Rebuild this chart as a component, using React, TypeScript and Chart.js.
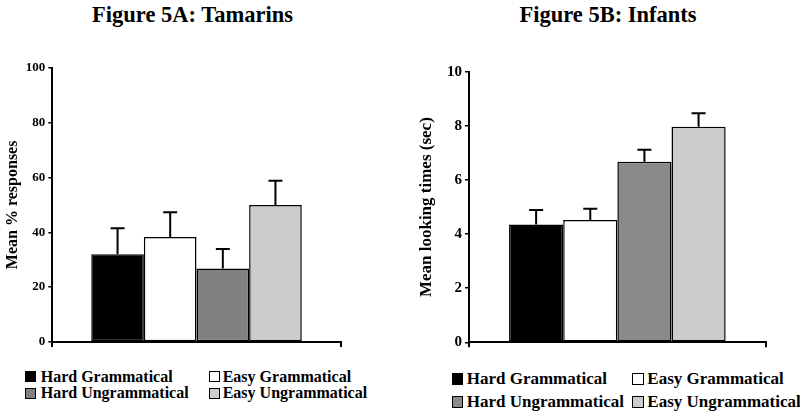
import React, { useEffect, useRef } from "react";
import { Chart, registerables } from "chart.js";

Chart.register(...registerables);

const categories = ["Hard Grammatical", "Easy Grammatical", "Hard Ungrammatical", "Easy Ungrammatical"];
const groupLabels = [""];

const tamarinMeans = [32.0, 38.3, 26.8, 49.9];
const tamarinErrors = [9.5, 9.0, 7.1, 8.9];
const tamarinTicks = [0, 20, 40, 60, 80, 100];

const infantMeans = [4.36, 4.52, 6.68, 7.97];
const infantErrors = [0.53, 0.42, 0.44, 0.5];
const infantTicks = [0, 2, 4, 6, 8, 10];

const tamarinColors = ["#000000", "#ffffff", "#808080", "#cccccc"];
const infantColors = ["#000000", "#ffffff", "#8a8a8a", "#cccccc"];

const SERIF = "'Liberation Serif', 'Times New Roman', serif";

const errorBarPlugin = {
  id: "errorBars",
  afterDatasetsDraw(chart: any) {
    const ctx = chart.ctx;
    const yScale = chart.scales.y;
    ctx.save();
    ctx.strokeStyle = "#000";
    ctx.lineWidth = 2;
    chart.data.datasets.forEach((ds: any, i: number) => {
      const meta = chart.getDatasetMeta(i);
      meta.data.forEach((bar: any, j: number) => {
        const v = ds.data[j];
        const e = ds.errors[j];
        const yTop = yScale.getPixelForValue(v);
        const yErr = yScale.getPixelForValue(v + e);
        ctx.beginPath();
        ctx.moveTo(bar.x, yTop);
        ctx.lineTo(bar.x, yErr);
        ctx.moveTo(bar.x - 7, yErr);
        ctx.lineTo(bar.x + 7, yErr);
        ctx.stroke();
      });
    });
    ctx.restore();
  },
};

type PanelProps = {
  means: number[];
  errors: number[];
  colors: string[];
  ticks: number[];
  yTitle: string;
  tickSize: number;
  titleSize: number;
  titlePad: number;
  yWidth: number;
  padding: { left: number; top: number; right: number; bottom: number };
  style: React.CSSProperties;
};

function BarPanel(p: PanelProps) {
  const ref = useRef<HTMLCanvasElement | null>(null);
  useEffect(() => {
    if (!ref.current) return;
    const datasets = categories.map((c, i) => ({
      label: c,
      data: [p.means[i]],
      errors: [p.errors[i]],
      backgroundColor: p.colors[i],
      borderColor: "#000",
      borderWidth: 1.5,
      borderSkipped: false,
      categoryPercentage: 0.73,
      barPercentage: 1,
    }));
    const chart = new Chart(ref.current, {
      type: "bar",
      data: { labels: groupLabels, datasets: datasets as any },
      options: {
        animation: false,
        responsive: false,
        devicePixelRatio: 1,
        layout: { padding: p.padding },
        plugins: { legend: { display: false }, tooltip: { enabled: false }, title: { display: false } },
        scales: {
          x: {
            ticks: { display: false },
            grid: { display: true, drawOnChartArea: false, drawTicks: true, tickLength: 5, color: "#000", lineWidth: 2 },
            border: { display: true, color: "#000", width: 2 },
          },
          y: {
            min: p.ticks[0],
            max: p.ticks[p.ticks.length - 1],
            afterBuildTicks: (scale: any) => {
              scale.ticks = p.ticks.map((v) => ({ value: v }));
            },
            afterFit: (scale: any) => {
              scale.width = p.yWidth;
            },
            ticks: {
              color: "#000",
              padding: 3,
              font: { family: SERIF, size: p.tickSize, weight: "bold" },
            },
            grid: { display: true, drawOnChartArea: false, drawTicks: true, tickLength: 4, color: "#000", lineWidth: 1.5 },
            border: { display: true, color: "#000", width: 2 },
            title: {
              display: true,
              text: p.yTitle,
              color: "#000",
              padding: { top: p.titlePad, bottom: 0 },
              font: { family: SERIF, size: p.titleSize, weight: "bold", lineHeight: 1 },
            },
          },
        },
      },
      plugins: [errorBarPlugin],
    });
    return () => chart.destroy();
  }, []);
  return <canvas ref={ref} width={400} height={320} style={{ position: "absolute", ...p.style }} />;
}

function Legend(props: {
  colors: string[];
  colX: number[];
  textX: number[];
  rowY: number[];
  box: number;
  size: number;
}) {
  return (
    <>
      {categories.map((c, i) => {
        const col = i % 2;
        const row = Math.floor(i / 2);
        const cy = props.rowY[row];
        return (
          <React.Fragment key={c}>
            <div
              style={{
                position: "absolute",
                left: props.colX[col],
                top: cy - props.box / 2,
                width: props.box,
                height: props.box,
                boxSizing: "border-box",
                border: "1px solid #000",
                background: props.colors[i],
              }}
            />
            <div
              style={{
                position: "absolute",
                left: props.textX[col],
                top: cy - 10,
                height: 20,
                lineHeight: "20px",
                fontFamily: SERIF,
                fontWeight: "bold",
                fontSize: props.size,
                color: "#000",
                whiteSpace: "nowrap",
              }}
            >
              {c}
            </div>
          </React.Fragment>
        );
      })}
    </>
  );
}

export default function App() {
  const titleStyle: React.CSSProperties = {
    position: "absolute",
    top: 2.5,
    height: 23,
    lineHeight: "23px",
    fontFamily: SERIF,
    fontWeight: "bold",
    fontSize: 22.5,
    textAlign: "center",
    color: "#000",
    whiteSpace: "nowrap",
  };
  return (
    <div style={{ position: "absolute", left: 0, top: 0, width: 800, height: 415, background: "#fff", overflow: "hidden" }}>
      <div style={{ ...titleStyle, left: 0, width: 385 }}>Figure 5A: Tamarins</div>
      <div style={{ ...titleStyle, left: 416, width: 384 }}>Figure 5B: Infants</div>
      <BarPanel
        means={tamarinMeans}
        errors={tamarinErrors}
        colors={tamarinColors}
        ticks={tamarinTicks}
        yTitle="Mean % responses"
        tickSize={13}
        titleSize={16}
        titlePad={5.3}
        yWidth={52.3}
        padding={{ left: 0, top: 27.7, right: 59.3, bottom: 13 }}
        style={{ left: 0, top: 40 }}
      />
      <BarPanel
        means={infantMeans}
        errors={infantErrors}
        colors={infantColors}
        ticks={infantTicks}
        yTitle="Mean looking times (sec)"
        tickSize={15}
        titleSize={17}
        titlePad={18.5}
        yWidth={69}
        padding={{ left: 0, top: 32, right: 34.3, bottom: 12.7 }}
        style={{ left: 400, top: 40 }}
      />
      <Legend colors={tamarinColors} colX={[25, 209.3]} textX={[40.7, 222.7]} rowY={[376.7, 393.3]} box={11} size={16} />
      <Legend colors={infantColors} colX={[451.7, 632.3]} textX={[466.7, 647.3]} rowY={[379, 402]} box={11.7} size={17} />
    </div>
  );
}
